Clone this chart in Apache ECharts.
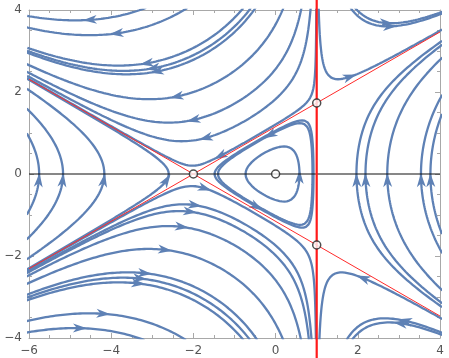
<!DOCTYPE html>
<html>
<head>
<meta charset="utf-8">
<script src="https://cdn.jsdelivr.net/npm/echarts@6/dist/echarts.min.js"></script>
<style>
  html, body { margin: 0; padding: 0; background: #fff; }
  #chart { width: 449px; height: 358px; }
</style>
</head>
<body>
<div id="chart"></div>
<script>
// Plot window
const xRange = [-6, 4];
const yRange = [-4, 4];
const tickStep = 2;

// Equilibrium points of the system (saddle, centre, two saddles on x = 1)
const equilibria = [[-2, 0], [0, 0], [1, 1.732], [1, -1.732]];

// Streamline seed points (each streamline carries its arrowhead at its seed)
const upperSeeds = [[-4.52, 3.76], [-3.87, 3.43], [-3.14, 2.70], [-2.98, 2.58], [-2.89, 2.50],
                    [-2.41, 1.89], [-2.00, 1.32], [-1.70, 0.88], [-1.35, 0.44]];
const lowerSeeds = [[-4.76, -3.76], [-4.19, -3.41], [-3.34, -2.67], [-3.30, -2.55], [-3.18, -2.42],
                    [-2.69, -1.85], [-2.28, -1.29], [-2.08, -0.92], [-1.96, -0.76], [-1.72, -0.35]];
const leftSeeds = [[-5.76, -0.15], [-5.18, -0.15], [-4.18, -0.15], [-2.65, -0.15]];
const rightSeeds = [[1.97, -0.15], [2.19, -0.15], [2.72, -0.15], [3.54, -0.15], [3.77, -0.15]];
const cornerSeeds = [[1.81, 2.37], [2.78, 3.60], [2.70, 3.68], [2.13, -2.54], [3.03, -3.64], [3.15, -3.58]];
const loopSeeds = [[0.58, -0.07], [-0.14, 0.95], [-0.46, -0.80]];

const streamColor = '#5E81B5';

// Vector field: x' = 2y(x - 1), y' = x^2 + 2x - y^2
function field(x, y) {
  return [2 * y * (x - 1), x * x + 2 * x - y * y];
}
function unitDir(x, y) {
  const f = field(x, y);
  const n = Math.hypot(f[0], f[1]);
  if (n < 1e-4) return null;
  return [f[0] / n, f[1] / n];
}
function inside(x, y, m) {
  return x >= xRange[0] - m && x <= xRange[1] + m && y >= yRange[0] - m && y <= yRange[1] + m;
}
// Trace a streamline from a seed in one direction (RK4 on the unit direction field)
function trace(seed, sign) {
  const h = 0.015 * sign;
  let x = seed[0], y = seed[1];
  const pts = [[x, y]];
  let len = 0, closed = false;
  for (let i = 0; i < 4000; i++) {
    const k1 = unitDir(x, y); if (!k1) break;
    const k2 = unitDir(x + 0.5 * h * k1[0], y + 0.5 * h * k1[1]); if (!k2) break;
    const k3 = unitDir(x + 0.5 * h * k2[0], y + 0.5 * h * k2[1]); if (!k3) break;
    const k4 = unitDir(x + h * k3[0], y + h * k3[1]); if (!k4) break;
    x += h / 6 * (k1[0] + 2 * k2[0] + 2 * k3[0] + k4[0]);
    y += h / 6 * (k1[1] + 2 * k2[1] + 2 * k3[1] + k4[1]);
    len += Math.abs(h);
    pts.push([x, y]);
    if (!inside(x, y, 0.05)) break;
    if (len > 1 && Math.hypot(x - seed[0], y - seed[1]) < 0.02) {
      pts.push([seed[0], seed[1]]);
      closed = true;
      break;
    }
  }
  return { pts, closed };
}
function streamline(seed) {
  const fwd = trace(seed, 1);
  if (fwd.closed) return fwd.pts;
  const back = trace(seed, -1).pts.reverse();
  back.pop();
  return back.concat(fwd.pts);
}

const allSeeds = [].concat(upperSeeds, lowerSeeds, leftSeeds, rightSeeds, cornerSeeds, loopSeeds);

const series = [];
allSeeds.forEach(function (s) {
  series.push({
    type: 'line', data: streamline(s), showSymbol: false, symbol: 'none',
    lineStyle: { width: 2.3, color: streamColor }, clip: true, silent: true, z: 2
  });
});

// Arrowheads at seeds
const arrowData = allSeeds.map(function (s) {
  const d = unitDir(s[0], s[1]);
  return [s[0], s[1], d[0], d[1]];
});
series.push({
  type: 'custom', data: arrowData, clip: true, silent: true, z: 3,
  encode: { x: 0, y: 1 },
  renderItem: function (params, api) {
    const x = api.value(0), y = api.value(1), dx = api.value(2), dy = api.value(3);
    const p0 = api.coord([x, y]);
    const p1 = api.coord([x + dx * 0.05, y + dy * 0.05]);
    let ux = p1[0] - p0[0], uy = p1[1] - p0[1];
    const n = Math.hypot(ux, uy); ux /= n; uy /= n;
    const L = 14, W = 9;
    const nx = -uy, ny = ux;
    const tip = [p0[0] + ux * L * 0.5, p0[1] + uy * L * 0.5];
    const b1 = [p0[0] - ux * L * 0.5 + nx * W / 2, p0[1] - uy * L * 0.5 + ny * W / 2];
    const b2 = [p0[0] - ux * L * 0.5 - nx * W / 2, p0[1] - uy * L * 0.5 - ny * W / 2];
    const notch = [p0[0] - ux * L * 0.22, p0[1] - uy * L * 0.22];
    return { type: 'polygon', shape: { points: [tip, b1, notch, b2] }, style: { fill: streamColor } };
  }
});

// Horizontal axis through the origin
series.push({
  type: 'line', data: [[xRange[0], 0], [xRange[1], 0]], showSymbol: false, symbol: 'none',
  lineStyle: { width: 1.2, color: '#111' }, clip: true, silent: true, z: 4
});

// Separatrix lines through the saddle at (-2, 0) and the saddles on x = 1
function extendedLine(a, b) {
  const m = (b[1] - a[1]) / (b[0] - a[0]);
  return [[xRange[0], a[1] + m * (xRange[0] - a[0])], [xRange[1], a[1] + m * (xRange[1] - a[0])]];
}
[equilibria[2], equilibria[3]].forEach(function (e) {
  series.push({
    type: 'line', data: extendedLine(equilibria[0], e), showSymbol: false, symbol: 'none',
    lineStyle: { width: 1, color: '#ff2a2a' }, clip: true, silent: true, z: 5
  });
});
// Vertical separatrix x = 1 (spans the full picture height)
const vertSeries = {
  id: 'vert', type: 'line', data: [[equilibria[2][0], yRange[0]], [equilibria[2][0], yRange[1]]],
  showSymbol: false, symbol: 'none', lineStyle: { width: 2.2, color: '#ff1a1a' },
  clip: false, silent: true, z: 5
};
series.push(vertSeries);

// Equilibrium markers
series.push({
  type: 'scatter', data: equilibria, symbol: 'circle', symbolSize: 8,
  itemStyle: { color: '#fff', borderColor: '#222', borderWidth: 1.5 }, z: 10, silent: true
});

const fmt = function (v) { return v < 0 ? '\u2212' + (-v) : String(v); };
const frameColor = '#a8a8a8';
const labelStyle = { color: '#555', fontSize: 12, fontFamily: 'DejaVu Sans' };
function axisCommon(showLabel) {
  return {
    type: 'value', interval: tickStep,
    axisLine: { show: true, onZero: false, lineStyle: { color: frameColor, width: 1 } },
    axisTick: { show: true, inside: true, length: 5, lineStyle: { color: frameColor } },
    minorTick: { show: true, splitNumber: 4, length: 3, lineStyle: { color: frameColor } },
    splitLine: { show: false },
    axisLabel: Object.assign({ show: showLabel, formatter: fmt, margin: 7 }, labelStyle)
  };
}

const chart = echarts.init(document.getElementById('chart'), null, { renderer: 'canvas' });
const option = {
  animation: false,
  backgroundColor: '#fff',
  grid: { left: 29, right: 9, top: 10, bottom: 20, containLabel: false },
  xAxis: [
    Object.assign(axisCommon(true), { position: 'bottom', min: xRange[0], max: xRange[1] }),
    Object.assign(axisCommon(false), { position: 'top', min: xRange[0], max: xRange[1] })
  ],
  yAxis: [
    Object.assign(axisCommon(true), { position: 'left', min: yRange[0], max: yRange[1] }),
    Object.assign(axisCommon(false), { position: 'right', min: yRange[0], max: yRange[1] })
  ],
  series: series
};
chart.setOption(option);

// Stretch the vertical separatrix to the picture's top and bottom edges
const topY = chart.convertFromPixel({ gridIndex: 0 }, [0, 0])[1];
const botY = chart.convertFromPixel({ gridIndex: 0 }, [0, 358])[1];
chart.setOption({ series: [{ id: 'vert', data: [[equilibria[2][0], botY], [equilibria[2][0], topY]] }] });
</script>
</body>
</html>
